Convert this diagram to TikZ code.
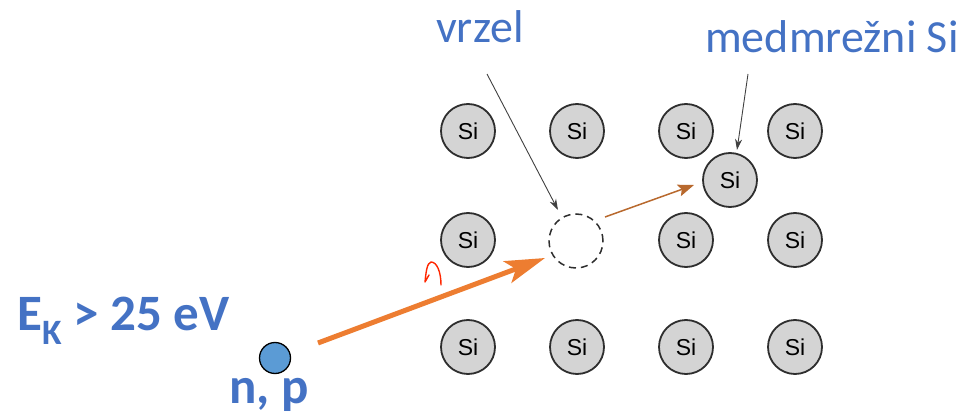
\documentclass[tikz,border=0pt]{standalone}
\usepackage{fontspec}
\setmainfont{Carlito}
\newfontfamily\atomfont{Liberation Sans}
\usetikzlibrary{arrows.meta}
\definecolor{labelblue}{HTML}{4472C4}
\definecolor{dotblue}{HTML}{5B9BD5}
\definecolor{hitorange}{HTML}{ED7D31}
\definecolor{recoilbrown}{HTML}{B8692E}
\definecolor{atomgray}{HTML}{D4D4D4}
\definecolor{atomedge}{HTML}{2E2E2E}
\begin{document}
\begin{tikzpicture}[x=1pt,y=-1pt,
  atom/.style={circle,draw=atomedge,line width=1.8pt,fill=atomgray,
    minimum size=54pt,inner sep=0pt,font=\atomfont\fontsize{23}{23}\selectfont},
  vacancy/.style={circle,draw=atomedge,line width=1.5pt,
    dash pattern=on 7pt off 5pt,minimum size=54pt,inner sep=0pt},
  label/.style={anchor=base west,inner sep=0pt,text=labelblue,
    font=\fontsize{46}{46}\selectfont},
  boldlabel/.style={label,font=\fontsize{51}{51}\selectfont\bfseries},
  pointer/.style={draw=black!75,line width=0.9pt,
    -{Stealth[length=11pt,width=7pt]}},
]
\useasboundingbox (0,0) rectangle (972,414);

% silicon lattice
\foreach \c/\x in {1/468,2/577,3/686,4/795}{
  \foreach \r/\y in {1/131,2/240,3/347}{
    \ifnum\r=2 \ifnum\c=2 \else
      \node[atom] (si\r\c) at (\x,\y) {Si};
    \fi\else
      \node[atom] (si\r\c) at (\x,\y) {Si};
    \fi
  }
}
\node[vacancy] (vac) at (576,241) {};
\node[atom] (int) at (730,180) {Si};

% incoming particle
\node[circle,draw=black,line width=1.3pt,fill=dotblue,minimum size=31pt,
  inner sep=0pt] (dot) at (275,358) {};
\node[boldlabel] (np) at (229,403) {n, p};
\node[boldlabel] (ek) at (17,330) {E\textsubscript{K} > 25 eV};

% labels
\node[label] (vrzel) at (436,43) {vrzel};
\node[label] (medm) at (705,53) {medmrežni Si};

% trajectory of the incoming particle
\coordinate (hitS) at (318,343);
\coordinate (hitE) at (545,258);
\draw[hitorange,line width=5pt,
  -{Stealth[length=40pt,width=23pt,inset=9pt]}] (hitS) -- (hitE);

% recoil of the displaced atom
\coordinate (recS) at (605,217);
\coordinate (recE) at (694,185);
\draw[recoilbrown,line width=1.5pt,
  -{Stealth[length=16pt,width=12pt,inset=3pt]}] (recS) -- (recE);

% small mark beside the trajectory
\draw[red!70!orange,line width=1.4pt,line cap=round,line join=round]
  (429,275) -- (425,282) .. controls (426,272) and (427,263) .. (431,262)
  .. controls (437,262) and (441,272) .. (441,285);

% pointers
\coordinate (vrzelS) at (487,74);
\coordinate (medmS) at (748,74);
\draw[pointer] (vrzelS) -- (558,210);
\draw[pointer] (medmS) -- (737,150);
\end{tikzpicture}
\end{document}
